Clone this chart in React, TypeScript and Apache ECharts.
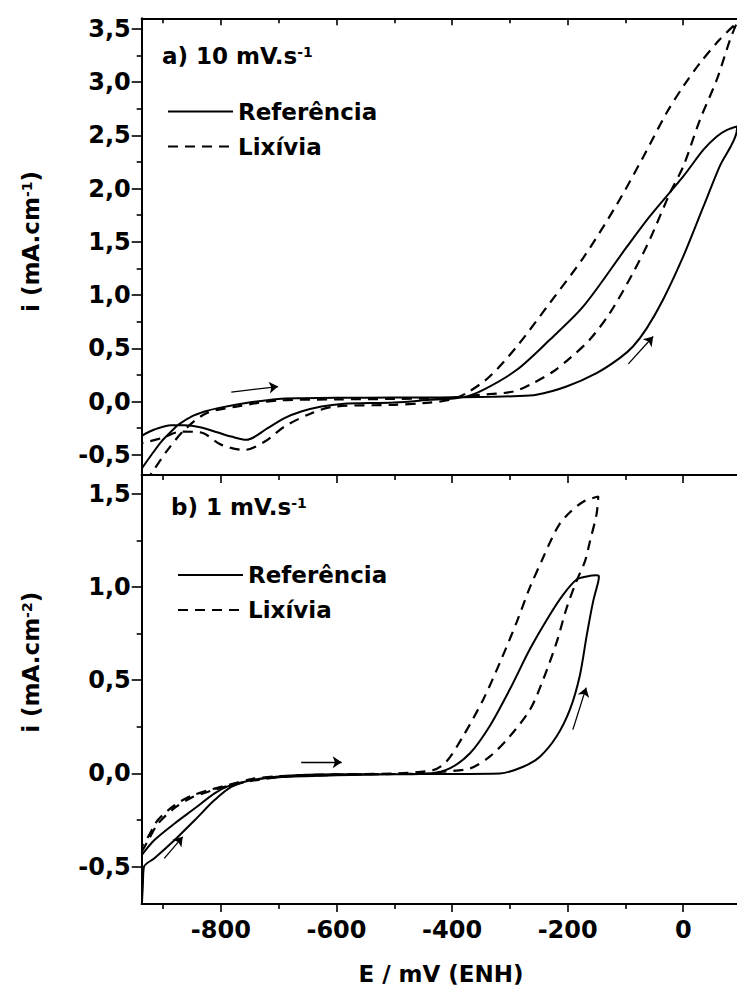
import React, { useEffect, useRef } from 'react';
import * as echarts from 'echarts';

const FONT = 'DejaVu Sans';

// Axis extents and ticks
const X_MIN = -937;
const X_MAX = 93;
const TOP_Y_MIN = -0.69;
const TOP_Y_MAX = 3.6;
const BOT_Y_MIN = -0.7;
const BOT_Y_MAX = 1.6;

const xMajorTicks = [-800, -600, -400, -200, 0];
const xMinorTicks = [-900, -700, -500, -300, -100];
const yTopMajorTicks = [-0.5, 0, 0.5, 1, 1.5, 2, 2.5, 3, 3.5];
const yTopMinorTicks = [-0.25, 0.25, 0.75, 1.25, 1.75, 2.25, 2.75, 3.25];
const yBottomMajorTicks = [-0.5, 0, 0.5, 1, 1.5];
const yBottomMinorTicks = [-0.25, 0.25, 0.75, 1.25];

const seriesNames = ['Referência', 'Lixívia'];

// Panel a) 10 mV/s  — [E (mV), i]
const refTopForward = [
  [-937, -0.63], [-920, -0.5], [-903, -0.376], [-886, -0.282], [-874, -0.219], [-851, -0.141],
  [-828, -0.094], [-805, -0.062], [-759, -0.016], [-701, 0.025], [-661, 0.032], [-600, 0.035],
  [-499, 0.037], [-420, 0.038], [-381, 0.041], [-330, 0.045], [-294, 0.05], [-254, 0.063],
  [-202, 0.141], [-150, 0.267], [-110, 0.408], [-87, 0.517], [-63, 0.69], [-35, 0.956],
  [0, 1.363], [35, 1.833], [63, 2.209], [93, 2.56],
];
const refTopReverse = [
  [93, 2.585], [75, 2.55], [58, 2.49], [35, 2.366], [0, 2.115], [-58, 1.739], [-98, 1.45],
  [-173, 0.893], [-231, 0.58], [-288, 0.298], [-346, 0.11], [-381, 0.041],
  [-439, 0.016], [-499, -0.009], [-591, -0.022], [-626, -0.047], [-661, -0.094], [-690, -0.156],
  [-719, -0.25], [-756, -0.36], [-782, -0.329], [-805, -0.291], [-834, -0.244], [-863, -0.222],
  [-886, -0.222], [-915, -0.263], [-937, -0.322],
];
const lixTopForward = [
  [-930, -0.75], [-918, -0.658], [-892, -0.454], [-863, -0.266], [-825, -0.109], [-776, -0.05],
  [-700, 0.01], [-600, 0.02], [-500, 0.025], [-410, 0.032], [-352, 0.063], [-294, 0.094],
  [-260, 0.173], [-225, 0.282], [-196, 0.408], [-162, 0.58], [-127, 0.831], [-87, 1.207],
  [-58, 1.52], [-23, 1.959], [0, 2.209], [29, 2.648], [58, 3.023], [81, 3.4], [93, 3.56],
];
const lixTopReverse = [
  [93, 3.56], [63, 3.4], [29, 3.18], [0, 2.96], [-29, 2.71], [-69, 2.3], [-115, 1.85],
  [-173, 1.35], [-231, 0.925], [-288, 0.517], [-335, 0.235], [-375, 0.079], [-404, 0.016],
  [-450, -0.015], [-500, -0.031], [-603, -0.047], [-643, -0.109], [-690, -0.235], [-724, -0.376],
  [-759, -0.454], [-799, -0.407], [-834, -0.291], [-868, -0.282], [-903, -0.344], [-937, -0.391],
];

// Panel b) 1 mV/s
const refBottomForward = [
  [-937, -0.72], [-935, -0.6], [-933, -0.5], [-915, -0.455], [-880, -0.357], [-845, -0.25],
  [-811, -0.143], [-782, -0.072], [-747, -0.036], [-690, -0.014], [-603, -0.005], [-491, -0.004],
  [-433, -0.003], [-317, 0.0], [-277, 0.036], [-248, 0.09], [-219, 0.199], [-196, 0.343],
  [-179, 0.524], [-167, 0.74], [-156, 0.921], [-147, 1.029], [-146, 1.056],
];
const refBottomReverse = [
  [-146, 1.056], [-150, 1.062], [-167, 1.056], [-185, 1.038], [-208, 0.957], [-231, 0.849],
  [-265, 0.668], [-300, 0.451], [-335, 0.253], [-369, 0.108], [-404, 0.027], [-439, 0.0],
  [-500, -0.005], [-600, -0.01], [-700, -0.02], [-747, -0.036], [-787, -0.068], [-811, -0.107],
  [-845, -0.187], [-880, -0.268], [-915, -0.357], [-937, -0.438],
];
const lixBottomForward = [
  [-937, -0.42], [-926, -0.36], [-909, -0.27], [-880, -0.185], [-851, -0.13], [-817, -0.093],
  [-788, -0.068], [-747, -0.04], [-690, -0.018], [-600, -0.008], [-500, -0.003], [-433, 0.0],
  [-416, 0.009], [-369, 0.027], [-335, 0.09], [-300, 0.199], [-265, 0.343], [-242, 0.506],
  [-219, 0.704], [-202, 0.885], [-185, 1.029], [-170, 1.138], [-162, 1.237], [-150, 1.39],
  [-147, 1.485],
];
const lixBottomReverse = [
  [-147, 1.485], [-173, 1.457], [-196, 1.4], [-214, 1.337], [-228, 1.256], [-242, 1.16],
  [-265, 1.0], [-288, 0.813], [-317, 0.596], [-346, 0.397], [-381, 0.199], [-410, 0.063],
  [-433, 0.018], [-500, 0.0], [-600, -0.005], [-700, -0.015], [-747, -0.03], [-788, -0.063],
  [-817, -0.086], [-851, -0.12], [-880, -0.17], [-909, -0.25], [-926, -0.34], [-937, -0.393],
];

// Scan-direction arrows: [start, end]
const arrowsTop = [
  [[-782, 0.088], [-701, 0.141]],
  [[-95, 0.354], [-52, 0.611]],
];
const arrowsBottom = [
  [[-661, 0.06], [-591, 0.06]],
  [[-898, -0.455], [-866, -0.34]],
  [[-191, 0.235], [-168, 0.46]],
];

const commaFmt = (v: number) => v.toFixed(1).replace('.', ',');

const boldText = (size: number) => ({
  fontFamily: FONT,
  fontWeight: 'bold' as const,
  fontSize: size,
  color: '#000',
});

function xAxis(gridIndex: number, position: string, o: any) {
  return {
    type: 'value',
    gridIndex,
    position,
    min: X_MIN,
    max: X_MAX,
    splitLine: { show: false },
    axisLine: { show: o.line, onZero: false, lineStyle: { color: '#000', width: 2 } },
    axisTick: {
      show: o.ticks != null,
      inside: !!o.inside,
      length: o.len || 7,
      customValues: o.ticks || [],
      lineStyle: { color: '#000', width: 1.6 },
    },
    axisLabel: o.labels
      ? { show: true, customValues: xMajorTicks, margin: 14, ...boldText(24), formatter: (v: number) => String(v) }
      : { show: false },
  };
}

function yAxis(gridIndex: number, min: number, max: number, ticks: number[], len: number, labels: boolean, line: boolean) {
  return {
    type: 'value',
    gridIndex,
    position: 'left',
    min,
    max,
    splitLine: { show: false },
    axisLine: { show: line, onZero: false, lineStyle: { color: '#000', width: 2 } },
    axisTick: { show: true, inside: false, length: len, customValues: ticks, lineStyle: { color: '#000', width: 1.6 } },
    axisLabel: labels
      ? { show: true, customValues: ticks, margin: 11, ...boldText(24), formatter: commaFmt }
      : { show: false },
  };
}

const supRich = {
  m: { fontFamily: FONT, fontWeight: 'bold', fontSize: 23, lineHeight: 22, fill: '#000' },
  s: { fontFamily: FONT, fontWeight: 'bold', fontSize: 14, verticalAlign: 'top', fill: '#000' },
};

export default function App() {
  const ref = useRef<HTMLDivElement>(null);

  useEffect(() => {
    if (!ref.current) return;
    const chart = echarts.init(ref.current, undefined, { renderer: 'svg' });

    const lineSeries = (name: string, x: number, y: number, data: number[][], dashed: boolean) => ({
      type: 'line',
      name,
      xAxisIndex: x,
      yAxisIndex: y,
      data,
      symbol: 'none',
      smooth: 0.3,
      clip: true,
      lineStyle: { color: '#000', width: dashed ? 2.2 : 2, type: dashed ? [10, 7] : 'solid' },
      itemStyle: { color: '#000' },
      z: 3,
    });

    const arrowSeries = (x: number, y: number, arr: number[][][]) => ({
      type: 'lines',
      coordinateSystem: 'cartesian2d',
      xAxisIndex: x,
      yAxisIndex: y,
      data: arr.map((c) => ({ coords: c })),
      symbol: ['none', 'arrow'],
      symbolSize: 9,
      silent: true,
      lineStyle: { color: '#000', width: 1.3, opacity: 1, curveness: 0 },
      z: 4,
    });

    const legendCommon = {
      data: seriesNames,
      orient: 'vertical',
      itemWidth: 65,
      itemHeight: 14,
      itemGap: 7,
      padding: 0,
      selectedMode: false,
      itemStyle: { opacity: 0, borderWidth: 0 },
      lineStyle: { width: 2, opacity: 1 },
      textStyle: { ...boldText(23), lineHeight: 28 },
    };

    chart.setOption({
      animation: false,
      backgroundColor: '#fff',
      grid: [
        { left: 141.7, top: 18.3, right: 0, height: 456.7, outerBoundsMode: 'none', containLabel: false },
        { left: 141.7, top: 475, right: 0, height: 429, outerBoundsMode: 'none', containLabel: false },
      ],
      xAxis: [
        xAxis(0, 'bottom', { line: true, ticks: xMajorTicks, len: 8 }),
        xAxis(0, 'top', { line: true, ticks: xMajorTicks, inside: true, len: 7 }),
        xAxis(0, 'bottom', { line: false, ticks: xMinorTicks, len: 5 }),
        xAxis(0, 'top', { line: false, ticks: xMinorTicks, inside: true, len: 5 }),
        xAxis(1, 'bottom', { line: true, ticks: xMajorTicks, len: 8, labels: true }),
        xAxis(1, 'top', { line: true }),
        xAxis(1, 'bottom', { line: false, ticks: xMinorTicks, len: 5 }),
      ],
      yAxis: [
        yAxis(0, TOP_Y_MIN, TOP_Y_MAX, yTopMajorTicks, 10, true, true),
        yAxis(0, TOP_Y_MIN, TOP_Y_MAX, yTopMinorTicks, 5, false, false),
        yAxis(1, BOT_Y_MIN, BOT_Y_MAX, yBottomMajorTicks, 10, true, true),
        yAxis(1, BOT_Y_MIN, BOT_Y_MAX, yBottomMinorTicks, 5, false, false),
      ],
      legend: [
        { ...legendCommon, left: 167, top: 97.5 },
        { ...legendCommon, left: 177, top: 561 },
      ],
      series: [
        lineSeries(seriesNames[0], 0, 0, [...refTopForward, ...refTopReverse], false),
        lineSeries(seriesNames[1], 0, 0, [...lixTopForward, ...lixTopReverse], true),
        lineSeries(seriesNames[0], 4, 2, [...refBottomForward, ...refBottomReverse], false),
        lineSeries(seriesNames[1], 4, 2, [...lixBottomForward, ...lixBottomReverse], true),
        arrowSeries(0, 0, arrowsTop),
        arrowSeries(4, 2, arrowsBottom),
      ],
      graphic: [
        {
          type: 'text', x: 162, y: 55.7, silent: true,
          style: { text: '{m|a) 10 mV.s}{s|-1}', rich: supRich, align: 'left', verticalAlign: 'middle', fill: '#000', fontFamily: FONT, fontWeight: 'bold', fontSize: 23 },
        },
        {
          type: 'text', x: 171, y: 506.5, silent: true,
          style: { text: '{m|b) 1 mV.s}{s|-1}', rich: supRich, align: 'left', verticalAlign: 'middle', fill: '#000', fontFamily: FONT, fontWeight: 'bold', fontSize: 23 },
        },
        {
          type: 'text', x: 31, y: 241.5, rotation: Math.PI / 2, silent: true,
          style: { text: '{m|i (mA.cm}{s|-1}{m|)}', rich: supRich, align: 'center', verticalAlign: 'middle', fill: '#000', fontFamily: FONT, fontWeight: 'bold', fontSize: 23 },
        },
        {
          type: 'text', x: 31, y: 662.3, rotation: Math.PI / 2, silent: true,
          style: { text: '{m|i (mA.cm}{s|-2}{m|)}', rich: supRich, align: 'center', verticalAlign: 'middle', fill: '#000', fontFamily: FONT, fontWeight: 'bold', fontSize: 23 },
        },
        {
          type: 'text', x: 441, y: 974, silent: true,
          style: { text: 'E / mV (ENH)', align: 'center', verticalAlign: 'middle', fill: '#000', fontFamily: FONT, fontWeight: 'bold', fontSize: 23 },
        },
      ],
    });

    return () => chart.dispose();
  }, []);

  return (
    <div
      ref={ref}
      style={{ position: 'absolute', left: 0, top: 0, width: 737, height: 989, background: '#fff' }}
    />
  );
}
